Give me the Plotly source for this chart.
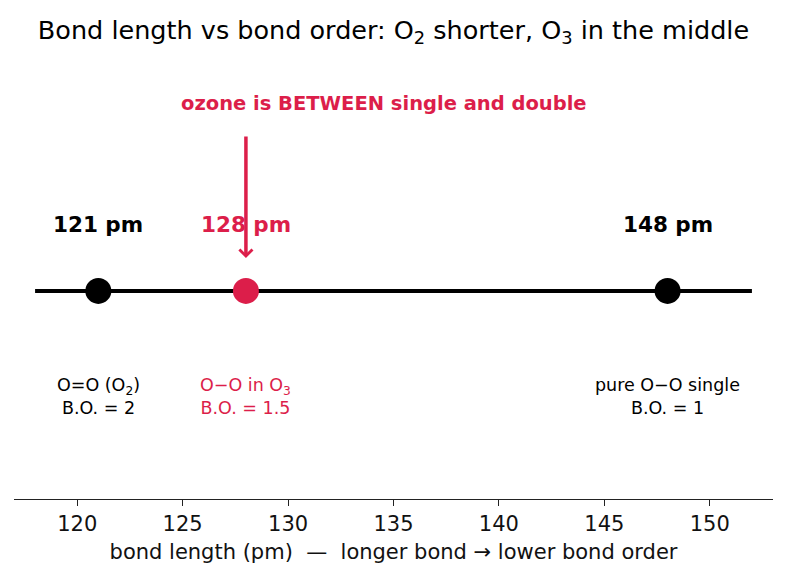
import plotly.graph_objects as go

# ---- data ----
lengths = [121, 128, 148]
value_labels = ["121 pm", "128 pm", "148 pm"]
bond_names = ["O=O (O<sub>2</sub>)", "O\u2212O in O<sub>3</sub>", "pure O\u2212O single"]
bond_orders = ["B.O. = 2", "B.O. = 1.5", "B.O. = 1"]
colors = ["black", "#DC1E4A", "black"]
line_span = [118, 152]
x_ticks = [120, 125, 130, 135, 140, 145, 150]

FONT = "DejaVu Sans"
CRIMSON = "#DC1E4A"

# vertical layout positions (axis units, 0 = bottom spine)
Y_LINE = 0.474
Y_VAL = 0.626
Y_LAB = 0.233

fig = go.Figure()
fig.add_trace(go.Scatter(x=line_span, y=[Y_LINE, Y_LINE], mode="lines",
                         line=dict(color="black", width=4), hoverinfo="skip",
                         showlegend=False))
fig.add_trace(go.Scatter(x=lengths, y=[Y_LINE] * len(lengths), mode="markers",
                         marker=dict(size=26, color=colors, line=dict(width=0)),
                         showlegend=False))

for x, v, n, b, c in zip(lengths, value_labels, bond_names, bond_orders, colors):
    fig.add_annotation(x=x, y=Y_VAL, text=f"<b>{v}</b>", showarrow=False,
                       font=dict(family=FONT, size=21.5, color=c))
    fig.add_annotation(x=x, y=Y_LAB, text=f"{n}<br>{b}", showarrow=False,
                       font=dict(family=FONT, size=17.5, color=c))

# arrow
fig.add_annotation(x=lengths[1], y=0.549, ax=lengths[1], ay=0.829,
                   xref="x", yref="y", axref="x", ayref="y",
                   text="", showarrow=True, arrowhead=4, arrowsize=0.72,
                   arrowwidth=3.5, arrowcolor=CRIMSON)
fig.add_annotation(x=134.55, y=0.902, text="<b>ozone is BETWEEN single and double</b>",
                   showarrow=False, font=dict(family=FONT, size=19.5, color=CRIMSON))

fig.update_layout(
    width=787, height=575,
    margin=dict(l=14, r=14, t=60, b=76),
    paper_bgcolor="white", plot_bgcolor="white",
    title=dict(text="Bond length vs bond order: O<sub>2</sub> shorter, O<sub>3</sub> in the middle",
               x=0.5, xanchor="center", y=0.963, yanchor="top",
               font=dict(family=FONT, size=25.5, color="black")),
    xaxis=dict(range=[117, 153], tickvals=x_ticks, showgrid=False, zeroline=False,
               showline=True, linecolor="#222", linewidth=1.3,
               ticks="outside", ticklen=6, tickwidth=1.3, tickcolor="#222",
               tickfont=dict(family=FONT, size=21, color="#111"),
               title=dict(text="bond length (pm)  \u2014  longer bond \u2192 lower bond order",
                          font=dict(family=FONT, size=21, color="#111"), standoff=8)),
    yaxis=dict(range=[0, 1], visible=False, showgrid=False, zeroline=False),
)

fig.write_html("out.html")
